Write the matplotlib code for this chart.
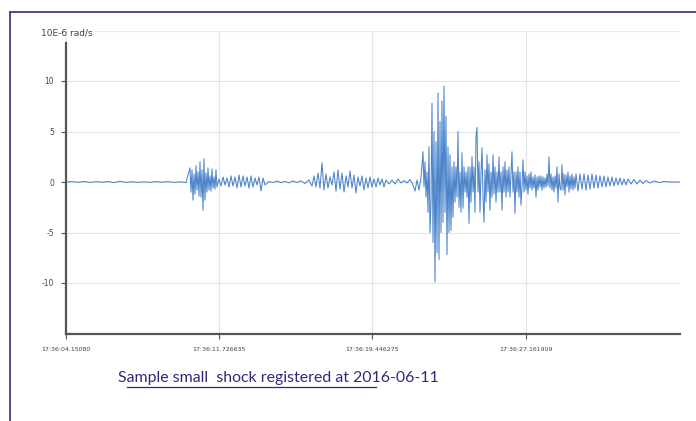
import matplotlib as mpl
mpl.use("agg")

import matplotlib.pyplot as plt
from matplotlib.lines import Line2D


# sample index (screen units) and angular velocity
sample = [
    0, 6, 12, 18, 24, 30, 36, 42, 48, 54, 60, 66, 72, 78, 84, 90, 96, 102, 108, 114, 120,
    124, 125, 126, 127, 128, 129, 130, 131, 132, 133, 134, 135, 136, 137, 138, 139, 140,
    141, 142, 143, 144, 145, 146, 147, 148, 149, 150, 151,
    153, 155, 157, 159, 161, 163, 165, 167, 169, 171, 173, 175, 177, 179, 181, 183, 185,
    187, 189, 191, 193, 195, 197, 199,
    203, 207, 211, 215, 219, 223, 227, 231, 235, 239, 243,
    246, 248, 250, 252, 254, 256, 258, 260, 262, 264, 266, 268, 270, 272, 274, 276, 278,
    280, 282, 284, 286, 288, 290, 292, 294, 296, 298, 300, 302, 304, 306, 308, 310, 312,
    314, 316, 318, 320, 323, 326, 329, 332, 335,
    338, 341, 344, 347, 349, 351, 353, 355,
    357, 358, 359, 360, 361, 362, 363, 364, 365, 366, 367, 368, 369, 370, 371, 372, 373,
    374, 375, 376, 377, 378, 379, 380, 381, 382, 383, 384, 385, 386, 387, 388, 389, 390,
    391, 392, 393, 394, 395, 396, 397, 398, 399, 400, 401, 402, 403, 404, 405, 406, 407,
    408, 409, 410, 411, 412, 413, 414, 415, 416, 417, 418, 419, 420, 421, 422, 423, 424,
    425, 426, 427, 428, 429, 430, 431, 432, 433, 434, 435, 436, 437, 438, 439, 440, 441,
    442, 443, 444, 445, 446, 447, 448, 449, 450, 451, 452, 453, 454, 455, 456, 457, 458,
    459, 460, 461, 462, 463, 464, 465, 466, 467, 468, 469, 470, 471, 472, 473, 474, 475,
    476, 477, 478, 479, 480, 481, 482, 483, 484, 485, 486, 487, 488, 489, 490, 491, 492,
    493, 494, 495, 496, 497, 498, 499, 500, 501, 502, 503, 504, 505, 506, 507, 508, 509,
    510, 512, 514, 516, 518, 520, 522, 524, 526, 528, 530, 532, 534, 536, 538, 540, 542,
    544, 546, 548, 550, 552, 554, 556, 558, 560, 562, 565, 568, 571, 574, 577, 580, 584,
    588, 593, 598, 604, 614,
]

rate = [
    0, 0.04, -0.03, 0.05, -0.04, 0.03, -0.02, 0.04, -0.06, 0.08, -0.04, 0.03, -0.04, 0.02,
    -0.04, 0.04, -0.02, 0.03, -0.04, 0.02, -0.05,
    1.4, -1.0, 1.2, -1.8, 0.8, -1.2, 1.6, -0.8, 1.0, -1.4, 2.0, -1.5, 1.2, -2.8, 2.3,
    -1.8, 0.9, -1.0, 1.4, -0.8, 0.6, -0.9, 1.3, -0.6, 0.5, -0.7, 1.2, -0.5,
    0.3, -0.4, 0.5, -0.3, 0.4, -0.5, 0.6, -0.4, 0.5, -0.6, 0.7, -0.5, 0.6, -0.4, 0.5,
    -0.6, 0.6, -0.5, 0.4, -0.3, 0.5, -0.9, 0.4, -0.3,
    0.05, -0.05, 0.08, -0.05, 0.05, -0.08, 0.1, -0.05, 0.12, -0.15, 0.2,
    -0.4, 0.6, -0.5, 0.9, -0.6, 1.9, -0.8, 0.8, -0.6, 0.5, -0.3, 1.0, -0.9, 1.2, -0.7,
    0.9, -1.0, 0.6, -0.5, 1.1, -0.6, 0.7, -1.1, 0.5, -0.4, 0.6, -0.8, 0.4, -0.6, 0.5,
    -0.5, 0.3, -0.5, 0.4, -0.3, 0.3, -0.5, 0.2, -0.2, 0.2, -0.2, 0.3, -0.1,
    0.15, -0.1, 0.25, -0.3, -0.9, 0.2, -0.8, 0.4,
    3.0, -0.5, 2.0, -1.5, 1.0, -3.0, 3.5, -5.0, -2.0, 7.8, -6.0, 5.0, -9.9, 4.0, -7.0,
    8.8, -7.7, 6.0, -5.0, 8.0, -4.0, 9.5, -3.0, 6.5, -7.2, 3.5, -5.0, 2.7, -4.8, 1.5,
    -3.5, 2.0, -2.0, 1.5, -1.5, 5.0, -2.5, 1.0, -3.0, 2.9, -2.6, 1.5, -1.0, 1.0, -1.5,
    1.5, -4.1, 1.5, -2.0, 2.5, -1.0, 1.5, -3.0, 4.5, 5.4, -1.0, 2.0, -3.0, 1.0, 3.4,
    -1.5, -4.0, 1.2, -2.0, 2.7, -1.0, 1.8, -2.8, 1.0, -1.5, 2.7, -1.2, 1.5, -2.0, 1.0,
    -1.0, 2.5, -1.0, 1.0, -2.8, 1.5, -1.0, 2.0, -1.5, 1.2, -1.0, 1.5, -1.5, 0.8, 3.0,
    -1.0, 1.0, -3.1, 1.0, -1.0, 1.5, -1.5, 1.0, -2.3, -0.5, 2.2, -1.0, 1.0, -0.8, 0.6,
    -1.2, 0.8, -0.6, 1.0, -0.8, 0.5, -0.6, 0.7, -1.5, 0.5, -0.8, 0.6, -0.5, 0.6, -0.8,
    0.5, -0.6, 0.4, -0.5, 0.8, -0.4, 2.5, -0.6, 0.8, -0.8, 0.5, -1.0, 0.6, -0.6, 1.5,
    -2.0, 0.8, -0.6, -0.8, 1.7, -0.8, 0.8, -1.3, 0.7, -0.5, 1.0, -1.0, 0.6, -0.7, 0.8,
    -0.8, 0.5, -0.6, 0.8,
    -0.9, 0.8, -0.7, 0.8, -0.8, 0.7, -0.7, 0.8, -0.6, 0.7, -0.6, 0.6, -0.5, 0.6, -0.5,
    0.5, -0.4, 0.5, -0.4, 0.4, -0.3, 0.4, -0.3, 0.3, -0.3, 0.3, -0.2, 0.25, -0.2, 0.2,
    -0.15, 0.15, -0.1, 0.1, -0.05, 0.05, 0.0, 0.0,
]

tick_pos = [0, 153, 306, 460]
tick_labels = ["17:36:04.15080", "17:36:11.726635", "17:36:19.446275", "17:36:27.161909"]
ytick_pos = [-10, -5, 0, 5, 10]
ytick_labels = ["-10", "-5", "0", "5", "10"]

caption = "Sample small  shock registered at 2016-06-11"
border = "#3f3a8f"


fig = plt.figure(figsize=(6.96, 4.21), dpi=100)
ax = fig.add_axes([66/696, 1 - 333.5/421, 614/696, 303/421])

ax.plot(sample, rate, color="#4c84cc", lw=0.75)

ax.set_xlim(0, 614)
ax.set_ylim(-15, 15)
ax.set_xticks(tick_pos)
ax.set_xticklabels(tick_labels)
ax.set_yticks(ytick_pos)
ax.set_yticklabels(ytick_labels)
ax.tick_params(labelsize=4.5, labelcolor="#444444", color="#555555",
               length=3.5, width=0.8)
ax.tick_params(axis="x", pad=6)
ax.tick_params(axis="y", pad=5, labelsize=5.5)

ax.grid(color="#e4e4e4", lw=0.8)
ax.axhline(15, color="#ececec", lw=0.8, zorder=0)
ax.set_axisbelow(True)
for side in ("top", "right"):
    ax.spines[side].set_visible(False)
for side in ("left", "bottom"):
    ax.spines[side].set_color("#555555")
    ax.spines[side].set_linewidth(1.6)
ax.spines["left"].set_bounds(-15, 13.8)

fig.text(67/696, 1 - 33/421, "10E-6 rad/s", fontsize=6.5, color="#444444",
         ha="center", va="center")

# page frame around the figure
fig.add_artist(Line2D([10/696, 10/696], [0, 1 - 12/421], color=border, lw=1.3))
fig.add_artist(Line2D([10/696, 1], [1 - 12/421, 1 - 12/421], color=border, lw=1.3))

fig.text(118/696, 1 - 378/421, caption, fontsize=11.4, family="Lato",
         color="#2e2a7a", ha="left", va="center")
fig.add_artist(Line2D([127/696, 376/696], [1 - 387/421, 1 - 387/421],
                      color="#2e2a7a", lw=0.9))

fig.savefig("out.png", dpi=100)
